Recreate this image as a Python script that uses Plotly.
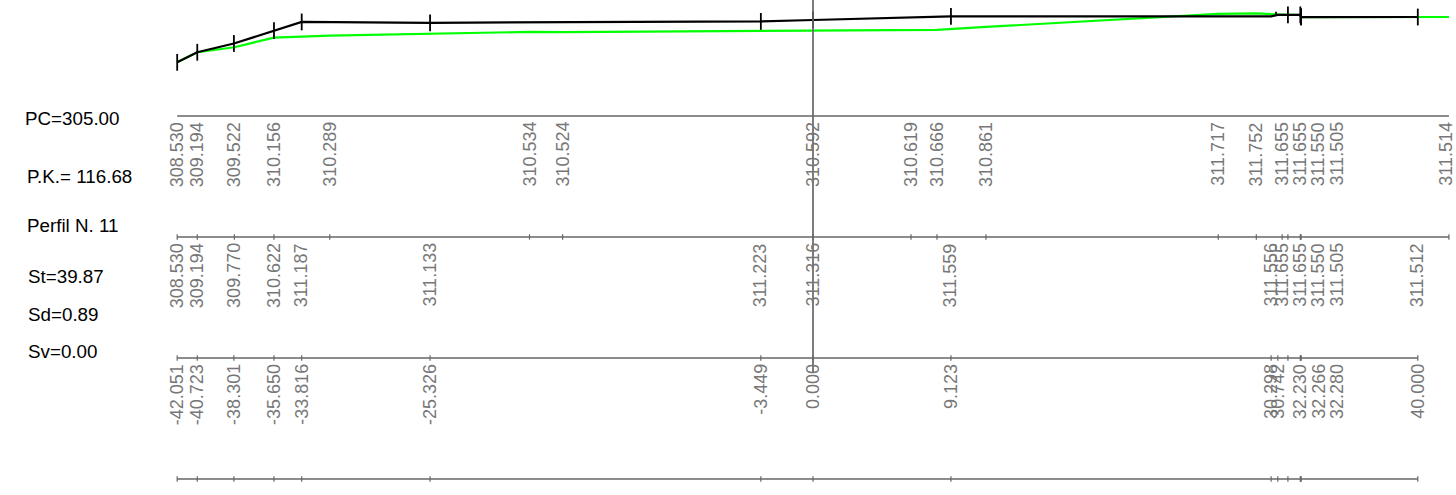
import plotly.graph_objects as go

# Ground profile (green): stations, elevations printed in first row
ground_st = [-42.051, -40.723, -38.27, -35.65, -31.96, -18.75, -16.56, 0.0, 6.48, 8.2, 11.44, 26.8, 29.32, 31.03, 31.41, 32.23, 32.25, 32.28, 42.06]
ground_el = [308.530, 309.194, 309.522, 310.156, 310.289, 310.534, 310.524, 310.592, 310.619, 310.666, 310.861, 311.717, 311.752, 311.655, 311.655, 311.655, 311.550, 311.505, 311.514]
ground_lab = ["308.530", "309.194", "309.522", "310.156", "310.289", "310.534", "310.524", "310.592", "310.619", "310.666", "310.861", "311.717", "311.752", "311.655", "311.655", "311.550", "311.505", "311.514"]
ground_lab_st = [-42.051, -40.723, -38.27, -35.65, -31.96, -18.75, -16.56, 0.0, 6.48, 8.2, 11.44, 26.8, 29.36, 31.03, 32.23, 33.45, 34.66, 41.88]

# Design profile (black)
road_st = [-42.051, -40.723, -38.301, -35.65, -33.816, -25.326, -3.449, 0.0, 9.123, 30.298, 30.742, 31.41, 32.23, 32.266, 32.28, 40.0]
road_el = [308.53, 309.194, 309.77, 310.622, 311.187, 311.133, 311.223, 311.316, 311.559, 311.556, 311.655, 311.655, 311.655, 311.55, 311.505, 311.512]
road_tick_st = [-42.051, -40.723, -38.301, -35.65, -33.816, -25.326, -3.449, 0.0, 9.123, 31.41, 32.23, 32.266, 32.28, 40.0]
road_tick_el = [308.53, 309.194, 309.77, 310.622, 311.187, 311.133, 311.223, 311.316, 311.559, 311.655, 311.655, 311.55, 311.505, 311.512]
stub_st = [30.62]
stub_el = [311.74]

road_el_lab = ["308.530", "309.194", "309.770", "310.622", "311.187", "311.133", "311.223", "311.316", "311.559", "311.556", "311.655", "311.655", "311.550", "311.505", "311.512"]
road_el_lab_st = [-42.051, -40.723, -38.301, -35.65, -33.816, -25.326, -3.449, 0.0, 9.123, 30.298, 31.03, 32.23, 33.45, 34.66, 40.0]

dist_lab = ["-42.051", "-40.723", "-38.301", "-35.650", "-33.816", "-25.326", "-3.449", "0.000", "9.123", "30.298", "30.742", "32.230", "32.266", "32.280", "40.000"]
dist_lab_st = [-42.051, -40.723, -38.301, -35.65, -33.816, -25.326, -3.449, 0.0, 9.123, 30.298, 30.742, 32.23, 33.45, 34.66, 40.0]

guide_rows = [-1.0, 2.124]
side_text = ["PC=305.00", "P.K.= 116.68", "Perfil N. 11", "St=39.87", "Sd=0.89", "Sv=0.00"]

W, H = 1456, 495
FONT = "Liberation Sans, Arial, sans-serif"
RULE = "#666666"
LABEL = "#777777"

fig = go.Figure()


def row_trace(st, row, ticks=True):
    fig.add_trace(go.Scatter(
        x=st, y=[row] * len(st), yaxis="y2", mode="lines+markers" if ticks else "lines",
        line=dict(color=RULE, width=1.6),
        marker=dict(symbol="line-ns", size=3.8, line=dict(color=RULE, width=1.2)),
        hoverinfo="skip", showlegend=False))


row_trace([ground_st[0], ground_st[-1]], 0, ticks=False)
row_trace(ground_st, 1)
tick_st = sorted(set(road_st))
row_trace(tick_st, 2)
row_trace(tick_st, 3)

fig.add_trace(go.Scatter(x=[0, 0], y=guide_rows, yaxis="y2", mode="lines",
                         line=dict(color=RULE, width=1.7), hoverinfo="skip", showlegend=False))

fig.add_trace(go.Scatter(x=ground_st, y=ground_el, mode="lines",
                         line=dict(color="#00ff00", width=2.2), hoverinfo="skip", showlegend=False))
fig.add_trace(go.Scatter(x=road_st, y=road_el, mode="lines",
                         line=dict(color="#000000", width=2.2), hoverinfo="skip", showlegend=False))
fig.add_trace(go.Scatter(x=road_tick_st, y=road_tick_el, mode="markers",
                         marker=dict(symbol="line-ns", size=12, line=dict(color="#000000", width=1.8)),
                         hoverinfo="skip", showlegend=False))
fig.add_trace(go.Scatter(x=stub_st, y=stub_el, mode="markers",
                         marker=dict(symbol="line-ns", size=2.4, line=dict(color="#000000", width=1.8)),
                         hoverinfo="skip", showlegend=False))

annotations = []


def row_labels(labels, stations, row):
    for t, s in zip(labels, stations):
        annotations.append(dict(
            x=s, y=row, xref="x", yref="y2", text=t, textangle=-90, showarrow=False,
            xanchor="center", yanchor="top", xshift=-0.5, yshift=-6, borderpad=0, borderwidth=0,
            font=dict(family=FONT, size=18, color=LABEL)))


row_labels(ground_lab, ground_lab_st, 0)
row_labels(road_el_lab, road_el_lab_st, 1)
row_labels(dist_lab, dist_lab_st, 2)

side_px = [(23.5, 118.5), (25.5, 176), (25.5, 225.5), (26.5, 276.5), (26.5, 314.5), (26.5, 351.5)]
for t, (px, py) in zip(side_text, side_px):
    annotations.append(dict(
        x=px / W, y=1 - py / H, xref="paper", yref="paper", text=t, showarrow=False,
        xanchor="left", yanchor="middle", borderpad=0,
        font=dict(family=FONT, size=18.8, color="#000000")))

fig.update_layout(
    width=W, height=H, margin=dict(l=0, r=0, t=0, b=0),
    paper_bgcolor="white", plot_bgcolor="white", showlegend=False,
    xaxis=dict(visible=False, range=[-813 / 15.12, (W - 813) / 15.12]),
    yaxis=dict(visible=False, range=[305 - (H - 116) / 15.2, 305 + 116 / 15.2]),
    yaxis2=dict(visible=False, overlaying="y", range=[(H - 116) / 121.0, -116 / 121.0]),
    annotations=annotations,
)

fig.write_html("out.html", config=dict(displayModeBar=False),
               post_script="document.body.style.margin='0';document.body.style.overflow='hidden';")
